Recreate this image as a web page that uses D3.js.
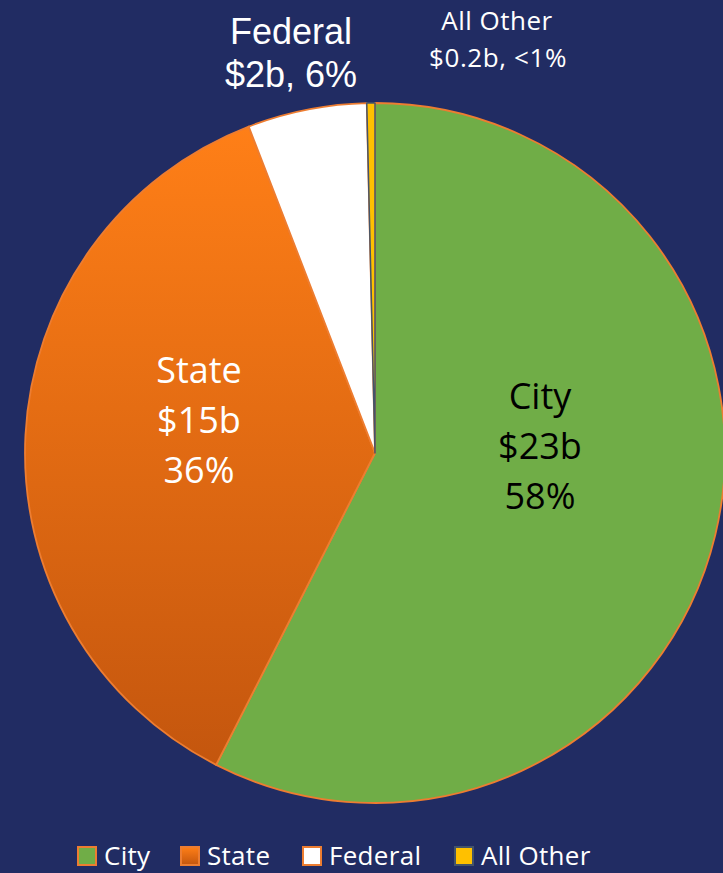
<!DOCTYPE html>
<html>
<head>
<meta charset="utf-8">
<script src="https://cdn.jsdelivr.net/npm/d3@7"></script>
<style>
  html, body { margin: 0; padding: 0; background: #212c63; }
  svg { display: block; }
</style>
</head>
<body>
<svg id="chart" width="723" height="873"></svg>
<script>
// funding sources, billions
const categories = ["City", "State", "Federal", "All Other"];
const values = [23, 14.65, 2.2, 0.15];
const amountLabels = ["$23b", "$15b", "$2b", "$0.2b"];
const pctLabels = ["58%", "36%", "6%", "<1%"];

const svg = d3.select("#chart");
const width = +svg.attr("width");
const height = +svg.attr("height");

const cx = 375, cy = 453, radius = 350;

const defs = svg.append("defs");
// orange gradient, light at top, darker at bottom (slice bbox)
["stateGrad", "stateGradLeg"].forEach(id => {
    const gr = defs.append("linearGradient")
        .attr("id", id)
        .attr("x1", 0).attr("y1", 0).attr("x2", 0).attr("y2", 1);
    gr.append("stop").attr("offset", "0%").attr("stop-color", "#ff7f17");
    gr.append("stop").attr("offset", "100%").attr("stop-color", "#c4560e");
});

const fills = ["#70ad47", "url(#stateGrad)", "#ffffff", "#ffc000"];
const legendFills = ["#70ad47", "url(#stateGradLeg)", "#ffffff", "#ffc000"];
const strokes = ["#ed7d31", "#ed7d31", "#ed7d31", "#44546a"];

const color = d3.scaleOrdinal().domain(categories).range(fills);

const pie = d3.pie().sort(null).value(d => d.value);
const arc = d3.arc().innerRadius(0).outerRadius(radius);

const data = categories.map((c, i) => ({ name: c, value: values[i] }));

const g = svg.append("g").attr("transform", `translate(${cx},${cy})`);

g.selectAll("path")
    .data(pie(data))
    .enter()
    .append("path")
    .attr("d", arc)
    .attr("fill", d => color(d.data.name))
    .attr("stroke", (d, i) => strokes[i])
    .attr("stroke-width", (d, i) => i === 3 ? 1.5 : 1.8)
    .attr("stroke-linejoin", "round");

// labels inside the big slices
const inner = [
    { i: 0, x: 540, y: 409, color: "#000" },
    { i: 1, x: 199, y: 383, color: "#fff" }
];
inner.forEach(l => {
    const lines = [categories[l.i], amountLabels[l.i], pctLabels[l.i]];
    svg.append("text")
        .attr("x", l.x)
        .attr("y", l.y)
        .attr("text-anchor", "middle")
        .attr("fill", l.color)
        .style("font-family", "'Open Sans', sans-serif")
        .style("font-size", "36px")
        .selectAll("tspan")
        .data(lines)
        .enter()
        .append("tspan")
        .attr("x", l.x)
        .attr("dy", (d, j) => j === 0 ? 0 : 50)
        .text(d => d);
});

// Federal label above the pie
svg.append("text")
    .attr("x", 291).attr("y", 44)
    .attr("text-anchor", "middle")
    .attr("fill", "#fff")
    .style("font-family", "'Liberation Sans', Arial, sans-serif")
    .style("font-size", "36px")
    .text(categories[2]);
svg.append("text")
    .attr("x", 291).attr("y", 87)
    .attr("text-anchor", "middle")
    .attr("fill", "#fff")
    .style("font-family", "'Liberation Sans', Arial, sans-serif")
    .style("font-size", "36px")
    .text(`${amountLabels[2]}, ${pctLabels[2]}`);

// All Other label
svg.append("text")
    .attr("x", 497).attr("y", 30)
    .attr("text-anchor", "middle")
    .attr("fill", "#fff")
    .style("font-family", "'Open Sans', sans-serif")
    .style("font-size", "26px")
    .style("letter-spacing", "0.5px")
    .text(categories[3]);
svg.append("text")
    .attr("x", 498).attr("y", 67)
    .attr("text-anchor", "middle")
    .attr("fill", "#fff")
    .style("font-family", "'Open Sans', sans-serif")
    .style("font-size", "26px")
    .style("letter-spacing", "0.6px")
    .text(`${amountLabels[3]}, ${pctLabels[3]}`);

// legend (kept just inside the bottom edge)
const legendX = [78, 181, 303, 455];
const legend = svg.selectAll(".leg")
    .data(categories)
    .enter()
    .append("g")
    .attr("class", "leg")
    .attr("transform", (d, i) => `translate(${legendX[i]},847)`);

legend.append("rect")
    .attr("width", 18).attr("height", 18)
    .attr("fill", (d, i) => legendFills[i])
    .attr("stroke", (d, i) => strokes[i])
    .attr("stroke-width", 2);

legend.append("text")
    .attr("x", 26).attr("y", 18)
    .attr("fill", "#fff")
    .style("font-family", "'Open Sans', sans-serif")
    .style("font-size", "26px")
    .style("letter-spacing", "0.3px")
    .text(d => d);
</script>
</body>
</html>
